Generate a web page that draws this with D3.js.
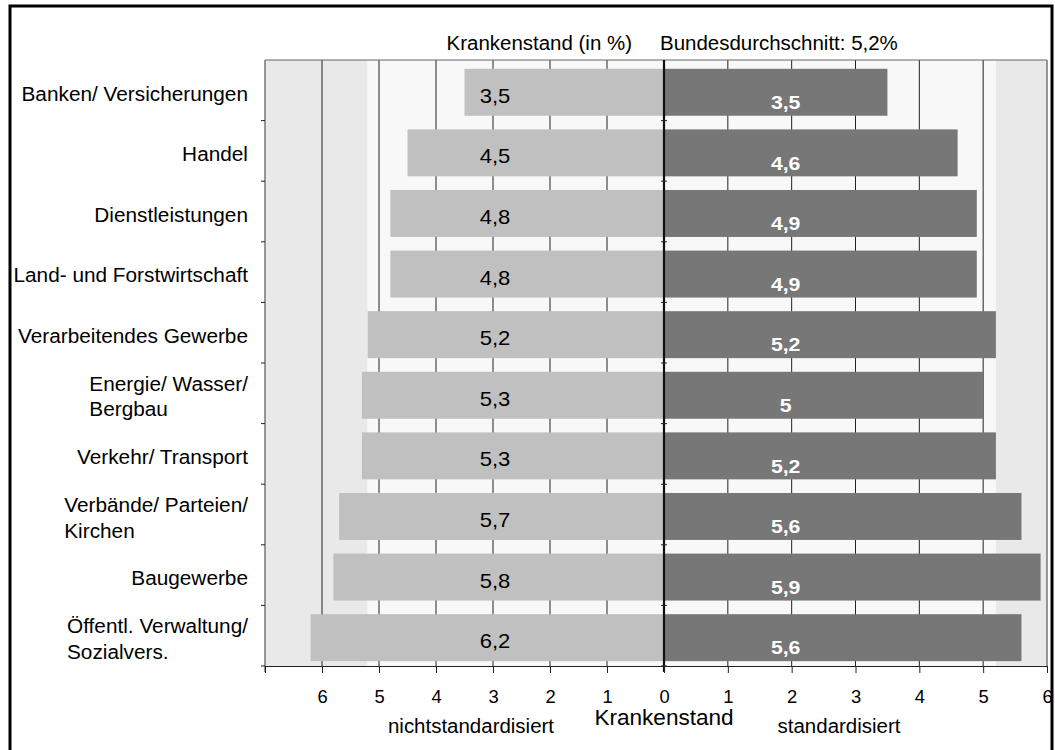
<!DOCTYPE html>
<html>
<head>
<meta charset="utf-8">
<script src="https://cdn.jsdelivr.net/npm/d3@7"></script>
<style>
  html, body { margin: 0; padding: 0; background: #fff; }
  svg { display: block; font-family: "Liberation Sans", Arial, sans-serif; }
</style>
</head>
<body>
<svg id="chart" width="1055" height="750"></svg>
<script>
// Krankenstand nach Wirtschaftszweigen, nicht standardisiert (links) und standardisiert (rechts)
const categories = [
  "Banken/ Versicherungen",
  "Handel",
  "Dienstleistungen",
  "Land- und Forstwirtschaft",
  "Verarbeitendes Gewerbe",
  "Energie/ Wasser/\nBergbau",
  "Verkehr/ Transport",
  "Verbände/ Parteien/\nKirchen",
  "Baugewerbe",
  "Öffentl. Verwaltung/\nSozialvers."
];
const nichtstandardisiert = [3.5, 4.5, 4.8, 4.8, 5.2, 5.3, 5.3, 5.7, 5.8, 6.2];
const standardisiert      = [3.5, 4.6, 4.9, 4.9, 5.2, 5.0, 5.2, 5.6, 5.9, 5.6];
const bundesdurchschnitt = 5.2;
const leftTicks  = [0, 1, 2, 3, 4, 5, 6, 7];
const rightTicks = [1, 2, 3, 4, 5, 6];

const svg = d3.select("#chart");
const SX = 1.05; // slight horizontal stretch of the lettering

const plot = { left: 265, right: 1047, top: 60, bottom: 666 };
const center = 664;

const xL = d3.scaleLinear().domain([0, 7]).range([center, plot.left]);
const xR = d3.scaleLinear().domain([0, 6]).range([center, plot.right]);
const y = d3.scaleBand().domain(categories).range([plot.top, plot.bottom]);
const bw = y.bandwidth();

const comma = v => String(v).replace(".", ",");

function label(sel, x, yy, txt, opts = {}) {
  return sel.append("text")
    .attr("transform", `translate(${x},${yy}) scale(${opts.sx || SX},1)`)
    .attr("text-anchor", opts.anchor || "start")
    .attr("font-size", opts.size || 20)
    .attr("font-weight", opts.weight || "normal")
    .attr("fill", opts.fill || "#000")
    .text(txt);
}

// Frame
svg.append("rect")
  .attr("x", 10).attr("y", 6).attr("width", 1042).attr("height", 760)
  .attr("fill", "none").attr("stroke", "#000").attr("stroke-width", 3);

// Background: lighter up to the national average, darker beyond it
const bg = svg.append("g");
bg.append("rect").attr("x", plot.left).attr("y", plot.top)
  .attr("width", xL(bundesdurchschnitt) - plot.left).attr("height", plot.bottom - plot.top)
  .attr("fill", "#e9e9e9");
bg.append("rect").attr("x", xL(bundesdurchschnitt)).attr("y", plot.top)
  .attr("width", center - xL(bundesdurchschnitt)).attr("height", plot.bottom - plot.top)
  .attr("fill", "#f8f8f8");
bg.append("rect").attr("x", center).attr("y", plot.top)
  .attr("width", xR(bundesdurchschnitt) - center).attr("height", plot.bottom - plot.top)
  .attr("fill", "#f8f8f8");
bg.append("rect").attr("x", xR(bundesdurchschnitt)).attr("y", plot.top)
  .attr("width", plot.right - xR(bundesdurchschnitt)).attr("height", plot.bottom - plot.top)
  .attr("fill", "#e9e9e9");

// Vertical gridlines
const grid = svg.append("g").attr("stroke", "#222").attr("stroke-width", 1);
[1, 2, 3, 4, 5, 6].forEach(v => {
  grid.append("line").attr("x1", xL(v)).attr("x2", xL(v)).attr("y1", plot.top).attr("y2", plot.bottom);
});
[1, 2, 3, 4, 5].forEach(v => {
  grid.append("line").attr("x1", xR(v)).attr("x2", xR(v)).attr("y1", plot.top).attr("y2", plot.bottom);
});

// Plot border
svg.append("line").attr("x1", plot.left).attr("x2", plot.right).attr("y1", plot.top).attr("y2", plot.top)
  .attr("stroke", "#666").attr("stroke-width", 1);
svg.append("line").attr("x1", plot.left).attr("x2", plot.left).attr("y1", plot.top).attr("y2", plot.bottom + 6)
  .attr("stroke", "#555").attr("stroke-width", 1.2);
svg.append("line").attr("x1", plot.right).attr("x2", plot.right).attr("y1", plot.top).attr("y2", plot.bottom)
  .attr("stroke", "#555").attr("stroke-width", 1.2);

// Bars
const barY = c => y(c) + bw * 0.145;
const barH = bw * 0.775;

svg.append("g").selectAll("rect")
  .data(categories)
  .join("rect")
  .attr("x", (c, i) => xL(nichtstandardisiert[i]))
  .attr("y", barY)
  .attr("width", (c, i) => center - xL(nichtstandardisiert[i]))
  .attr("height", barH)
  .attr("fill", "#c0c0c0");

svg.append("g").selectAll("rect")
  .data(categories)
  .join("rect")
  .attr("x", center)
  .attr("y", barY)
  .attr("width", (c, i) => xR(standardisiert[i]) - center)
  .attr("height", barH)
  .attr("fill", "#777777");

// Bar value labels
const vl = svg.append("g");
categories.forEach((c, i) => {
  label(vl, xL(3) + 2, y(c) + 42.7, comma(nichtstandardisiert[i]), { anchor: "middle", size: 21 });
  label(vl, xR(2) - 6, y(c) + 49, comma(standardisiert[i]), { anchor: "middle", size: 19, weight: "bold", fill: "#fff", sx: 1.12 });
});

// Center line with small ticks at category boundaries
svg.append("line").attr("x1", center).attr("x2", center).attr("y1", plot.top).attr("y2", plot.bottom + 6)
  .attr("stroke", "#111").attr("stroke-width", 2.2);
const bounds = categories.map(c => y(c)).slice(1).concat([plot.bottom]);
const bt = svg.append("g").attr("stroke", "#222").attr("stroke-width", 1);
bounds.forEach(b => {
  bt.append("line").attr("x1", plot.left - 4).attr("x2", plot.left).attr("y1", b).attr("y2", b);
  bt.append("line").attr("x1", center - 3).attr("x2", center + 3).attr("y1", b).attr("y2", b);
});

// Bottom axes
const axL = d3.axisBottom(xL).tickValues(leftTicks).tickSize(7).tickSizeOuter(0)
  .tickFormat(d => d === 7 ? "" : d3.format("d")(d));
const axR = d3.axisBottom(xR).tickValues(rightTicks).tickSize(7).tickSizeOuter(0)
  .tickFormat(d3.format("d"));

[axL, axR].forEach(ax => {
  const g = svg.append("g").attr("transform", `translate(0,${plot.bottom})`).call(ax);
  g.select(".domain").attr("stroke", "#222").attr("stroke-width", 1.2);
  g.selectAll(".tick line").attr("stroke", "#222").attr("stroke-width", 1);
  g.selectAll(".tick text")
    .attr("font-size", 17.5)
    .attr("font-family", "Liberation Sans, Arial, sans-serif")
    .attr("fill", "#000")
    .attr("y", 0).attr("dy", null)
    .attr("transform", `translate(0,36.5) scale(${SX},1)`);
});

// Category labels
const cl = svg.append("g");
categories.forEach(c => {
  const lines = c.split("\n");
  const cy = y(c) + bw / 2 + 3.5;
  if (lines.length === 1) {
    label(cl, 248, cy + 6.8, c, { anchor: "end", size: 19.8 });
  } else {
    const lh = 25.6;
    const t0 = cy + 6.8 - lh / 2;
    const nodes = lines.map((ln, k) => label(cl, 0, t0 + k * lh, ln, { size: 19.8 }));
    const wmax = d3.max(nodes, n => n.node().getComputedTextLength()) * SX;
    nodes.forEach((n, k) => n.attr("transform", `translate(${248 - wmax},${t0 + k * lh}) scale(${SX},1)`));
  }
});

// Header and axis titles
label(svg, 632, 50, "Krankenstand (in %)", { anchor: "end", size: 19.5 });
label(svg, 660, 50, "Bundesdurchschnitt: " + comma(bundesdurchschnitt) + "%", { size: 19.5 });
label(svg, center, 724.5, "Krankenstand", { anchor: "middle", size: 21.5 });
label(svg, 471, 733, "nichtstandardisiert", { anchor: "middle", size: 19.5 });
label(svg, 839, 733, "standardisiert", { anchor: "middle", size: 19.5 });
</script>
</body>
</html>
